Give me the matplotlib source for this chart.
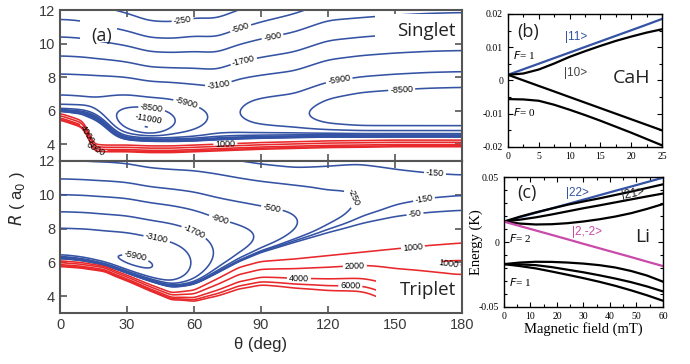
import numpy as np
import matplotlib
matplotlib.use("Agg")
import matplotlib.pyplot as plt
from matplotlib.patches import Rectangle
from matplotlib.ticker import MultipleLocator, FuncFormatter

plt.rcParams['axes.unicode_minus'] = False
plt.rcParams['font.family'] = ['Liberation Sans', 'DejaVu Sans']
plt.rcParams['contour.negative_linestyle'] = 'solid'

# ---------------------------------------------------------------- data
# angular nodes (deg) at which the potential-surface parameters are read
theta_nodes = [0, 10, 12, 15, 20, 25, 30, 40, 50, 60, 70, 80, 90, 105, 120, 135, 150, 165, 180]

# singlet surface: R of the -3100 tail, decay rate, well depth, inner edge, wall
s_Rref  = [8.2, 8.15, 8.15, 8.12, 8.1, 8.05, 8.0, 7.75, 7.7, 7.6, 7.5, 7.95, 8.15, 8.4, 9.05, 9.3, 9.45, 9.55, 9.6]
s_alpha = [0.56, 0.57, 0.58, 0.6, 0.62, 0.64, 0.66, 0.7, 0.7, 0.64, 0.63, 0.62, 0.58, 0.54, 0.53, 0.55, 0.55, 0.55, 0.55]
s_depth = [14000, 12000, 10000, 9000, 8500, 10000, 11500, 14500, 10000, 8000, 6000, 6500, 8500, 9500, 10800, 11000, 11000, 11000, 11000]
s_Rin   = [6.05, 5.95, 5.9, 5.75, 5.3, 4.55, 4.35, 4.3, 4.25, 4.25, 4.3, 4.35, 4.4, 4.45, 4.5, 4.5, 4.5, 4.5, 4.5]
s_kappa = [4.0, 3.5, 3.2, 3.0, 2.8, 2.6, 2.5, 3.0, 2.5, 2.2, 2.0, 1.8, 1.6, 1.8, 2.2, 2.5, 2.5, 2.5, 2.5]
s_Rwall = [5.85, 5.4, 4.95, 4.0, 3.95, 3.95, 3.95, 3.9, 3.9, 3.95, 4.0, 4.05, 4.1, 4.15, 4.2, 4.22, 4.25, 4.25, 4.25]
s_b_in  = 5.2
s_b_out = 5.2
s_Lref  = 3100

# triplet surface: R of the -250 tail, ...
t_Rref  = [12.05, 12.0, 12.0, 11.95, 11.95, 11.9, 11.85, 11.6, 11.5, 11.43, 11.24, 11.0, 10.8, 10.6, 10.45, 10.8, 10.85, 10.85, 10.85]
t_alpha = [0.63, 0.63, 0.63, 0.63, 0.62, 0.62, 0.62, 0.62, 0.6, 0.55, 0.5, 0.5, 0.5, 0.5, 0.4, 0.45, 0.55, 0.65, 0.75]
t_depth = [9000, 9000, 9000, 9000, 9000, 9000, 9000, 8000, 5500, 3300, 1800, 1400, 1050, 700, 450, 280, 240, 220, 215]
t_Rin   = [6.3, 6.15, 6.1, 6.0, 5.85, 5.65, 5.4, 4.95, 4.55, 4.65, 5.2, 5.8, 6.4, 7.0, 7.5, 7.9, 8.2, 8.4, 8.5]
t_kappa = [3.5, 3.4, 3.3, 3.2, 3.1, 3.0, 3.0, 2.8, 2.5, 2.0, 1.8, 2.0, 2.5, 2.0, 1.6, 1.3, 1.0, 1.0, 1.0]
t_Rwall = [6.1, 6.0, 5.95, 5.9, 5.8, 5.5, 5.25, 4.7, 4.2, 4.35, 5.0, 5.7, 6.05, 6.2, 6.4, 6.6, 6.8, 7.0, 7.15]
t_b_in  = [6, 6, 6, 6, 6, 6, 6, 5.5, 5, 3, 2, 1.6, 1.5, 1.2, 1.0, 0.9, 0.6, 0.45, 0.36]
t_b_out = [6, 6, 6, 6, 6, 6, 6, 5.5, 5, 3.5, 2.8, 2.2, 2.0, 1.8, 1.7, 1.6, 1.6, 1.6, 1.6]
t_Lref  = 250
t_dip   = (700, 180, 5.95, 23, 0.25)   # amplitude, theta, R, widths

blue_levels = [-11000, -8500, -5900, -3100, -1700, -900, -500, -250, -150, -50]
red_levels = [1000, 2000, 4000, 6000, 8000]

# contour labels (level, theta, R)
s_labels = [(-250, 55, 11.3), (-500, 81, 10.85), (-900, 95, 10.5), (-1700, 82, 9.1),
            (-3100, 71, 7.5), (-5900, 56, 6.15), (-8500, 41, 6.05), (-11000, 40, 5.8),
            (-5900, 125, 7.8), (-8500, 153, 7.2), (1000, 74, 4.15), (4000, 14, 4.7),
            (6000, 16, 3.7)]
t_labels = [(-5900, 34, 6.45), (-3100, 43, 7.2), (-1700, 59, 7.5), (-900, 71, 8.4),
            (-500, 95, 9.3), (-250, 136, 10.2), (-150, 168, 11.45), (-150, 163, 9.7),
            (-50, 159, 8.8), (1000, 158, 6.9), (1000, 174, 5.95), (2000, 132, 5.75),
            (4000, 107, 5.25), (6000, 130, 4.8)]

# CaH Zeeman levels (field in mT, energy in K)
cah_B = [0, 2.5, 5, 7.5, 10, 12.5, 15, 17.5, 20, 22.5, 25]
cah_11 = [0.0017, 0.00338, 0.00505, 0.00673, 0.0084, 0.01008, 0.01175, 0.01343, 0.0151, 0.01678, 0.0185]
cah_10 = [0.0017, 0.0021, 0.0033, 0.0051, 0.0071, 0.0088, 0.0104, 0.0119, 0.0132, 0.0144, 0.0154]
cah_1m1 = [0.0017, 0.00003, -0.00164, -0.0033, -0.00498, -0.00665, -0.00832, -0.00999, -0.01166, -0.01333, -0.015]
cah_00 = [-0.0056, -0.0057, -0.0061, -0.0073, -0.0088, -0.0104, -0.0121, -0.0139, -0.0157, -0.0176, -0.0195]

# Li Zeeman levels
li_B = [0, 6, 12, 18, 24, 30, 36, 42, 48, 54, 60]
li_22 = [0.0157, 0.0191, 0.0225, 0.0258, 0.0292, 0.0326, 0.036, 0.0394, 0.0427, 0.0461, 0.0495]
li_21 = [0.0157, 0.0195, 0.0228, 0.0258, 0.0287, 0.0312, 0.0336, 0.0362, 0.0388, 0.0416, 0.0444]
li_20 = [0.0157, 0.0172, 0.019, 0.0212, 0.0236, 0.026, 0.0282, 0.0305, 0.0328, 0.0351, 0.0373]
li_2m1 = [0.0157, 0.0142, 0.0135, 0.0137, 0.0145, 0.0158, 0.0175, 0.0196, 0.0222, 0.0255, 0.0292]
li_2m2 = [0.0157, 0.0123, 0.0089, 0.0055, 0.0021, -0.0014, -0.0048, -0.0082, -0.0116, -0.0151, -0.0185]
li_11 = [-0.017, -0.0158, -0.0152, -0.0153, -0.0158, -0.0166, -0.0178, -0.0196, -0.0223, -0.0258, -0.0305]
li_10 = [-0.017, -0.0172, -0.0178, -0.0193, -0.0213, -0.0233, -0.0256, -0.0281, -0.0309, -0.0342, -0.038]
li_1m1 = [-0.017, -0.0185, -0.0203, -0.0227, -0.0252, -0.0278, -0.0306, -0.0337, -0.0372, -0.041, -0.0452]

# ---------------------------------------------------------------- field
theta_grid = np.linspace(0, 180, 361)
R_grid = np.linspace(2.8, 12.2, 471)


def profile(vals, sigma=3.0):
    vals = np.broadcast_to(np.asarray(vals, float), (len(theta_nodes),))
    fine = np.interp(theta_grid, theta_nodes, vals)
    step = theta_grid[1] - theta_grid[0]
    n = int(4 * sigma / step)
    k = np.exp(-0.5 * (np.arange(-n, n + 1) * step / sigma) ** 2)
    k /= k.sum()
    return np.convolve(np.pad(fine, n, mode='reflect'), k, mode='valid')


def surface(Rref, alpha, depth, Rin, kappa, Rwall, b_in, b_out, Lref, dip=None):
    T, R = np.meshgrid(theta_grid, R_grid)
    Rref, alpha, depth = profile(Rref), profile(alpha), profile(depth)
    Rin, kappa, Rwall = profile(Rin), profile(kappa), profile(Rwall, 1.2)
    b_in, b_out = profile(b_in), profile(b_out)
    A = Lref * np.exp(-alpha * (R - Rref))
    p = 3.0
    M = (A ** -p + depth ** -p) ** (-1.0 / p)
    w = 0.06
    s = w * np.logaddexp(0.0, (R - Rin) / w)
    f = 1.0 - np.exp(-kappa * s)
    x = R - Rwall
    Vrep = 1000.0 * np.exp(np.clip(np.where(x < 0, -b_in * x, -b_out * x), -50, 30))
    V = Vrep - M * f
    if dip is not None:
        amp, t0, r0, st, sr = dip
        V = V - amp * np.exp(-((R - r0) / sr) ** 2 - ((T - t0) / st) ** 2)
    return T, R, V


BLUE = '#3553a4'
RED = '#e8282a'
MAG = '#c94aa8'
GRAY = '#555555'

fig = plt.figure(figsize=(6.9, 3.64), dpi=100)
ax_s = fig.add_axes([0.087, 0.5577, 0.5826, 0.4148])
ax_t = fig.add_axes([0.087, 0.1401, 0.5826, 0.4176])


def fmt(v):
    return f"{v:.0f}"


def draw_panel(ax, T, R, V, labels):
    for lvl in blue_levels + red_levels:
        col = BLUE if lvl < 0 else RED
        cs = ax.contour(T, R, V, levels=[lvl], colors=col, linewidths=1.15,
                        linestyles='solid')
        spots = [(th, rr) for (lv, th, rr) in labels if lv == lvl]
        if spots and len(cs.allsegs[0]) > 0:
            try:
                cs.clabel(manual=spots, inline=True, inline_spacing=2,
                          fontsize=6.5, fmt=fmt, colors='k')
            except Exception:
                pass
    ax.set_xlim(0, 180)
    ax.set_ylim(3, 12)
    ax.set_xticks([0, 30, 60, 90, 120, 150, 180])
    ax.set_yticks([4, 6, 8, 10, 12])
    ax.tick_params(direction='in', top=True, right=True, length=5, width=1.2,
                   colors=GRAY, labelcolor='#3a3a3a', labelsize=10.5)
    for sp in ax.spines.values():
        sp.set_color(GRAY)
        sp.set_linewidth(1.5)


T, R, Vs = surface(s_Rref, s_alpha, s_depth, s_Rin, s_kappa, s_Rwall, s_b_in, s_b_out, s_Lref)
draw_panel(ax_s, T, R, Vs, s_labels)
ax_s.tick_params(labelbottom=False)
T, R, Vt = surface(t_Rref, t_alpha, t_depth, t_Rin, t_kappa, t_Rwall, t_b_in, t_b_out, t_Lref, t_dip)
draw_panel(ax_t, T, R, Vt, t_labels)
ax_t.set_xlabel('θ (deg)', fontsize=12, color='#2a2a2a', labelpad=4)

# white label boxes that hide the contour lines behind the panel titles
for ax, (x0, y0, wd, ht) in ((ax_s, (9, 10.1, 16.5, 1.5)), (ax_s, (141, 10.15, 39, 1.6)),
                             (ax_t, (141.5, 3.0, 38.5, 2.0))):
    ax.add_patch(Rectangle((x0, y0), wd, ht, facecolor='white', edgecolor='none', zorder=2.4))

ax_s.text(0.104, 0.83, '(a)', transform=ax_s.transAxes, fontsize=13, family='Open Sans',
          ha='center', va='center', color='#222222', zorder=5)
ax_s.text(0.985, 0.86, 'Singlet', transform=ax_s.transAxes, fontsize=13.5, family='Open Sans',
          ha='right', va='center', color='#222222', zorder=5)
ax_t.text(0.985, 0.15, 'Triplet', transform=ax_t.transAxes, fontsize=13.5, family='Open Sans',
          ha='right', va='center', color='#222222', zorder=5)
fig.text(0.025, 0.455, r'$R$ ( a$_0$ )', rotation=90, fontsize=12, ha='center', va='center',
         color='#2a2a2a')

# ---------------------------------------------------------------- (b) CaH
SERIF = 'Liberation Serif'
ax_b = fig.add_axes([0.7362, 0.5962, 0.2232, 0.3654])
ax_b.plot(cah_B, cah_11, color=BLUE, lw=1.6)
ax_b.plot(cah_B, cah_10, color='k', lw=1.6)
ax_b.plot(cah_B, cah_1m1, color='k', lw=1.6)
ax_b.plot(cah_B, cah_00, color='k', lw=1.6)
ax_b.set_xlim(0, 25)
ax_b.set_ylim(-0.02, 0.02)
ax_b.xaxis.set_major_locator(MultipleLocator(5))
ax_b.xaxis.set_minor_locator(MultipleLocator(2.5))
ax_b.yaxis.set_major_locator(MultipleLocator(0.01))
ax_b.yaxis.set_minor_locator(MultipleLocator(0.005))
ax_b.yaxis.set_major_formatter(FuncFormatter(lambda v, p: '0' if abs(v) < 1e-9 else f'{v:.2f}'))

ax_b.text(0.13, 0.865, '(b)', transform=ax_b.transAxes, fontsize=13, family='Open Sans',
          ha='center', va='center', color='#222222')
ax_b.text(0.44, 0.83, '|11>', transform=ax_b.transAxes, fontsize=8.5, ha='center', va='center',
          color=BLUE)
ax_b.text(0.44, 0.555, '|10>', transform=ax_b.transAxes, fontsize=8.5, ha='center', va='center',
          color='#444444')
ax_b.text(0.03, 0.69, r'$F$= 1', transform=ax_b.transAxes, fontsize=8, family=SERIF,
          ha='left', va='center')
ax_b.text(0.03, 0.26, r'$F$= 0', transform=ax_b.transAxes, fontsize=8, family=SERIF,
          ha='left', va='center')
ax_b.text(0.80, 0.52, 'CaH', transform=ax_b.transAxes, fontsize=14, family='Open Sans',
          ha='center', va='center', color='#222222')

# ---------------------------------------------------------------- (c) Li
ax_c = fig.add_axes([0.7304, 0.1566, 0.2304, 0.357])
ax_c.plot(li_B, li_22, color=BLUE, lw=1.6)
for ys in (li_21, li_20, li_2m1, li_11, li_10, li_1m1):
    ax_c.plot(li_B, ys, color='k', lw=1.6)
ax_c.plot(li_B, li_2m2, color=MAG, lw=1.6)
ax_c.set_xlim(0, 60)
ax_c.set_ylim(-0.05, 0.05)
ax_c.xaxis.set_major_locator(MultipleLocator(10))
ax_c.xaxis.set_minor_locator(MultipleLocator(5))
ax_c.yaxis.set_major_locator(MultipleLocator(0.05))
ax_c.yaxis.set_minor_locator(MultipleLocator(0.01))
ax_c.yaxis.set_major_formatter(FuncFormatter(lambda v, p: '0' if abs(v) < 1e-9 else f'{v:.2f}'))
ax_c.set_xlabel('Magnetic field (mT)', family=SERIF, fontsize=10.5, labelpad=1)
ax_c.set_ylabel('Energy (K)', family=SERIF, fontsize=10.5)
ax_c.yaxis.set_label_coords(-0.13, 0.5)

ax_c.text(0.145, 0.875, '(c)', transform=ax_c.transAxes, fontsize=13, family='Open Sans',
          ha='center', va='center', color='#222222')
ax_c.text(0.46, 0.88, '|22>', transform=ax_c.transAxes, fontsize=8.5, ha='center', va='center',
          color=BLUE)
ax_c.text(0.81, 0.87, '|21>', transform=ax_c.transAxes, fontsize=8.5, ha='center', va='center',
          color='#222222', rotation=12)
ax_c.text(0.52, 0.575, '|2,-2>', transform=ax_c.transAxes, fontsize=8.5, ha='center', va='center',
          color=MAG)
ax_c.text(0.03, 0.53, r'$F$= 2', transform=ax_c.transAxes, fontsize=8, family=SERIF,
          ha='left', va='center')
ax_c.text(0.03, 0.19, r'$F$= 1', transform=ax_c.transAxes, fontsize=8, family=SERIF,
          ha='left', va='center')
ax_c.text(0.875, 0.535, 'Li', transform=ax_c.transAxes, fontsize=14, family='Open Sans',
          ha='center', va='center', color='#222222')

for ax in (ax_b, ax_c):
    ax.tick_params(which='both', direction='in', top=True, right=True, labelsize=7,
                   width=0.8)
    ax.tick_params(which='major', length=3.5)
    ax.tick_params(which='minor', length=2)
    for lab in ax.get_xticklabels() + ax.get_yticklabels():
        lab.set_family(SERIF)
    for sp in ax.spines.values():
        sp.set_linewidth(1.0)

fig.savefig('out.png', dpi=100)
